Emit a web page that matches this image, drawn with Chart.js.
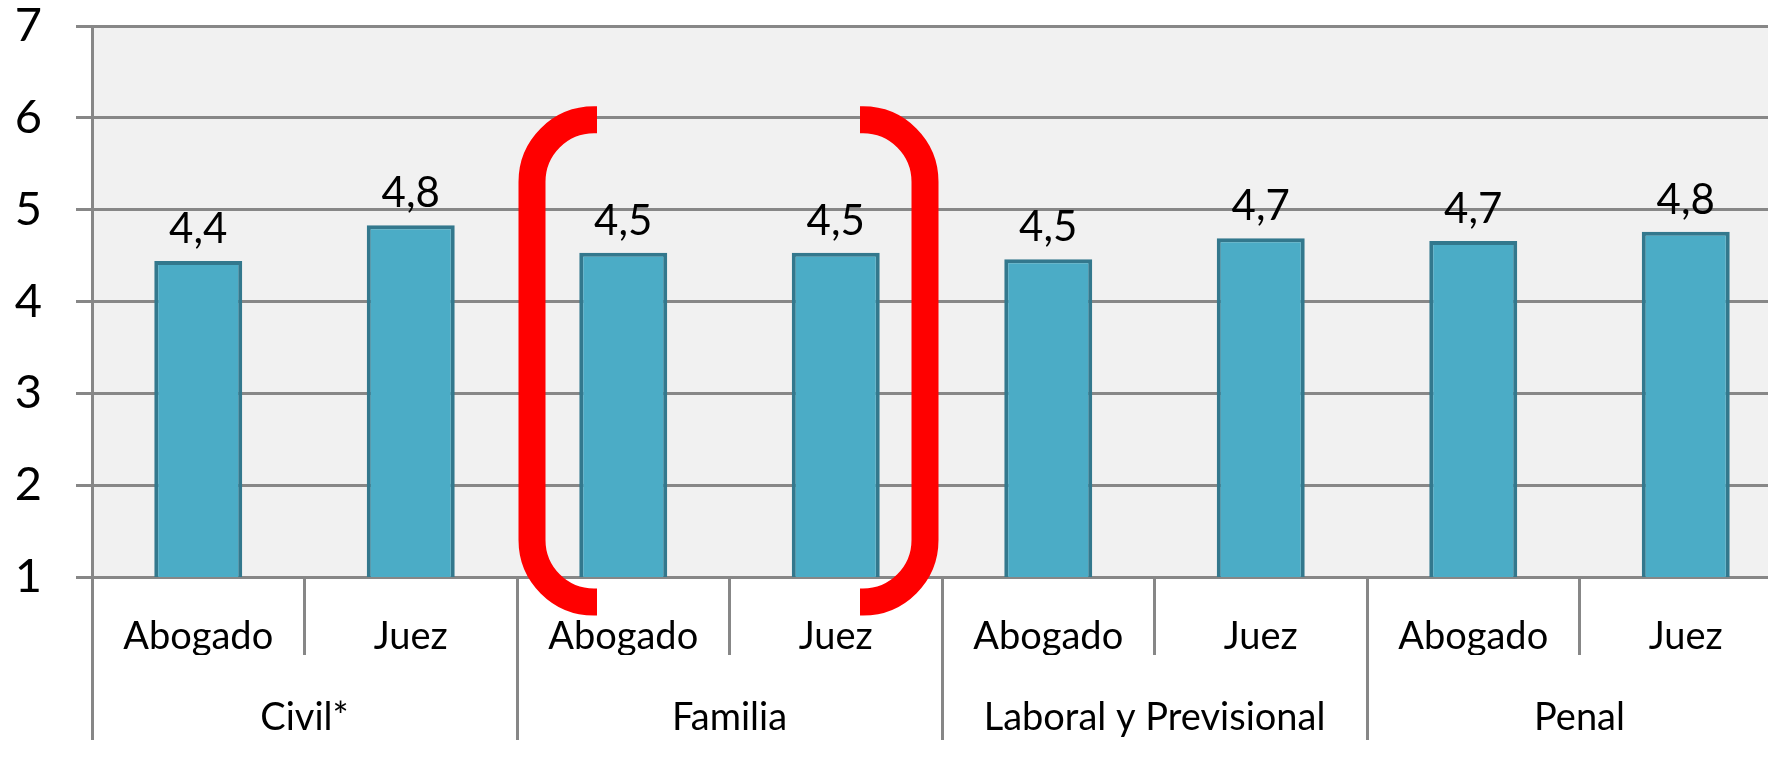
<!DOCTYPE html>
<html lang="es">
<head>
    <meta charset="UTF-8">
    <title>Abogado / Juez</title>
    <script src="https://cdn.jsdelivr.net/npm/chart.js"></script>
    <style>
        body {
            margin: 0;
            padding: 0;
            background: #ffffff;
            overflow: hidden;
        }
        /* the original plot runs a little past the right edge of the picture */
        .wrap {
            width: 1792px;
            height: 763px;
            position: relative;
        }
    </style>
</head>
<body>
    <div class="wrap">
        <canvas id="chart"></canvas>
    </div>

    <script>
        // data
        const roles = ['Abogado', 'Juez', 'Abogado', 'Juez', 'Abogado', 'Juez', 'Abogado', 'Juez'];
        const groups = ['Civil*', 'Familia', 'Laboral y Previsional', 'Penal'];
        const scores = [4.44, 4.83, 4.53, 4.53, 4.46, 4.69, 4.66, 4.76];
        const highlightGroup = 1; // Familia, marked with red brackets

        const gridGray = '#878787';

        // light grey plot background
        const plotBackground = {
            id: 'plotBackground',
            beforeDraw(chart) {
                const { ctx, chartArea: a } = chart;
                ctx.save();
                ctx.fillStyle = '#f1f1f1';
                ctx.fillRect(a.left, a.top, a.right - a.left, a.bottom - a.top);
                ctx.restore();
            }
        };

        // values above the bars, with decimal comma
        const valueLabels = {
            id: 'valueLabels',
            afterDatasetsDraw(chart) {
                const ctx = chart.ctx;
                const meta = chart.getDatasetMeta(0);
                ctx.save();
                ctx.font = '42px Lato';
                ctx.fillStyle = '#000';
                ctx.textAlign = 'center';
                ctx.textBaseline = 'alphabetic';
                meta.data.forEach((bar, i) => {
                    ctx.fillText(scores[i].toFixed(1).replace('.', ','), bar.x, bar.y - 18);
                });
                ctx.restore();
            }
        };

        // red brackets around one group
        const brackets = {
            id: 'brackets',
            afterDraw(chart) {
                const { ctx, scales } = chart;
                const xs = scales.x, ys = scales.y;
                const i0 = highlightGroup * 2;
                const left = (xs.getPixelForValue(i0 - 1) + xs.getPixelForValue(i0)) / 2;
                const right = (xs.getPixelForValue(i0 + 1) + xs.getPixelForValue(i0 + 2)) / 2;
                const top = ys.getPixelForValue(6) + 2;
                const bottom = chart.chartArea.bottom + 25;
                const r = 62;

                function bracket(vx, armX) {
                    ctx.beginPath();
                    ctx.moveTo(armX, top);
                    ctx.arcTo(vx, top, vx, bottom, r);
                    ctx.arcTo(vx, bottom, armX, bottom, r);
                    ctx.lineTo(armX, bottom);
                    ctx.stroke();
                }

                ctx.save();
                ctx.strokeStyle = '#ff0000';
                ctx.lineWidth = 27;
                ctx.lineCap = 'butt';
                bracket(left + 15, left + 80);
                bracket(right - 17, right - 82);
                ctx.restore();
            }
        };

        new Chart(document.getElementById('chart'), {
            type: 'bar',
            data: {
                labels: roles,
                datasets: [{
                    data: scores,
                    backgroundColor: '#4bacc6',
                    borderColor: '#33788d',
                    borderWidth: 4,
                    categoryPercentage: 1,
                    barPercentage: 0.414
                }]
            },
            options: {
                responsive: true,
                maintainAspectRatio: false,
                animation: false,
                layout: { padding: { top: 26, right: 0, bottom: 0, left: 0 } },
                plugins: {
                    legend: { display: false },
                    tooltip: { enabled: false }
                },
                scales: {
                    y: {
                        min: 1,
                        max: 7,
                        ticks: {
                            stepSize: 1,
                            padding: 34,
                            color: '#000',
                            font: { family: 'Lato', size: 47 }
                        },
                        grid: { color: gridGray, lineWidth: 3, tickLength: 16 },
                        border: { color: gridGray, width: 3 },
                        afterFit(scale) {
                            scale.width = 92;
                            scale.paddingTop = 0;
                            scale.paddingBottom = 0;
                        }
                    },
                    x: {
                        position: 'bottom',
                        weight: 0,
                        offset: true,
                        ticks: {
                            color: '#000',
                            font: { family: 'Lato', size: 38 },
                            padding: -41,
                            maxRotation: 0,
                            autoSkip: false
                        },
                        grid: {
                            offset: true,
                            drawOnChartArea: false,
                            color: gridGray,
                            lineWidth: 3,
                            tickLength: 78
                        },
                        border: { color: gridGray, width: 3 },
                        afterFit(scale) { scale.height = 78; }
                    },
                    x2: {
                        type: 'category',
                        position: 'bottom',
                        weight: 1,
                        labels: groups,
                        offset: true,
                        ticks: {
                            color: '#000',
                            font: { family: 'Lato', size: 38 },
                            padding: -45,
                            maxRotation: 0,
                            autoSkip: false
                        },
                        grid: {
                            offset: true,
                            drawOnChartArea: false,
                            color: gridGray,
                            lineWidth: 3,
                            tickLength: 85
                        },
                        border: { display: false },
                        afterFit(scale) { scale.height = 108; }
                    }
                }
            },
            plugins: [plotBackground, valueLabels, brackets]
        });
    </script>
</body>
</html>
